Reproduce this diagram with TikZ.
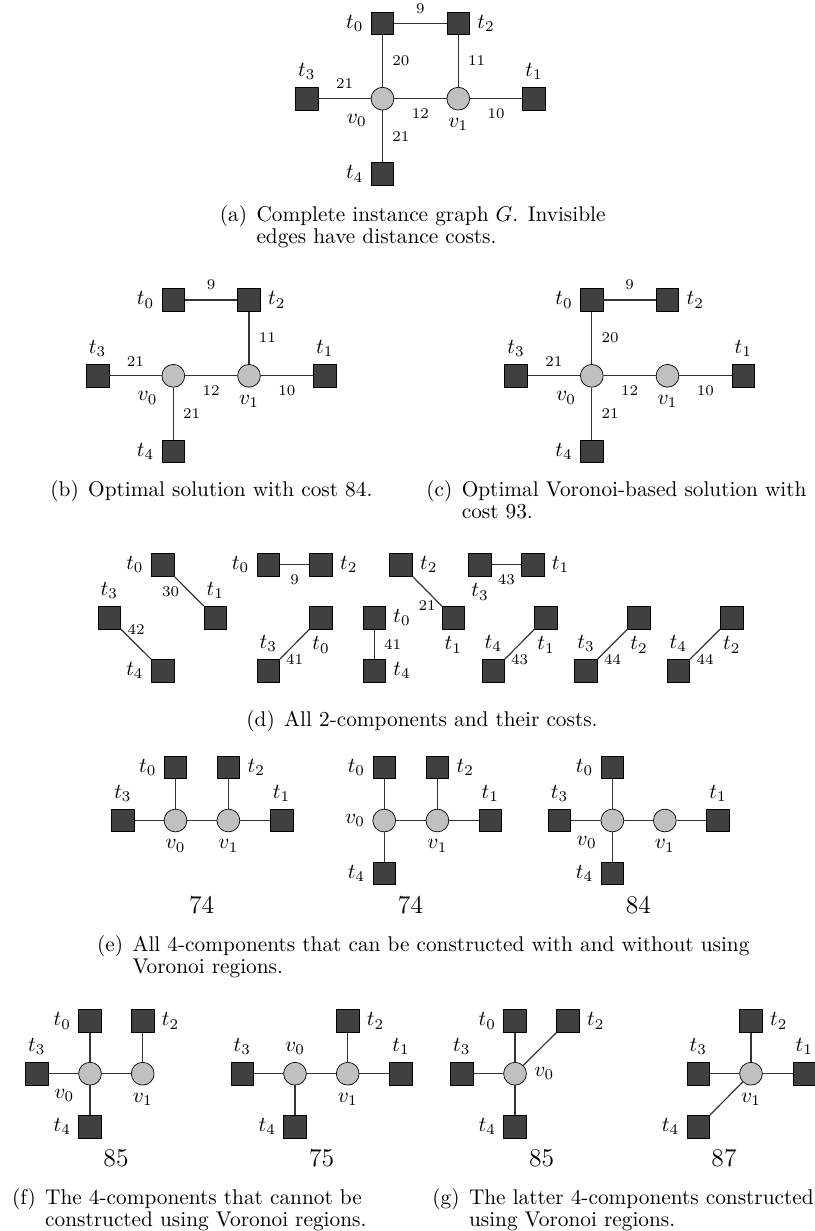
\documentclass[tikz,border=0pt]{standalone}
\definecolor{sqfill}{HTML}{404040}
\definecolor{cifill}{HTML}{C0C0C0}
\begin{document}
\begin{tikzpicture}[x=1pt,y=-1pt,
  sq/.style={rectangle,draw=black,line width=0.7pt,fill=sqfill,minimum size=22.6pt,inner sep=0pt},
  ci/.style={circle,draw=black,line width=0.7pt,fill=cifill,minimum size=22.8pt,inner sep=0pt},
  every label/.style={scale=2.13},
  ed/.style={draw=black!80,line width=1.2pt},
  el/.style={font=\scriptsize,scale=2.13,inner sep=4pt},
  bignum/.style={font=\large,scale=2.13,anchor=base},
  capt/.style={scale=2.13,anchor=base west,inner sep=0pt},
]
\useasboundingbox (0,0) rectangle (814,1231);

% ---------------- (a)
\node[sq,label=left:$t_0$] (a0) at (382.5,23.3) {};
\node[sq,label=right:$t_2$] (a2) at (458.3,23.3) {};
\node[sq,label=above:$t_3$] (a3) at (306.7,98.7) {};
\node[ci,label=below left:$v_0$] (av0) at (382.5,98.7) {};
\node[ci,label=below:$v_1$] (av1) at (458.3,98.7) {};
\node[sq,label=above:$t_1$] (a1) at (534,98.7) {};
\node[sq,label=left:$t_4$] (a4) at (382.5,174) {};
\draw[ed] (a0) -- node[el,above] {9} (a2);
\draw[ed] (a0) -- node[el,right] {20} (av0);
\draw[ed] (a2) -- node[el,right] {11} (av1);
\draw[ed] (a3) -- node[el,above] {21} (av0);
\draw[ed] (av0) -- node[el,below] {12} (av1);
\draw[ed] (av1) -- node[el,below] {10} (a1);
\draw[ed] (av0) -- node[el,right] {21} (a4);
\node[capt] (capa) at (219.5,221.7) {\begin{tabular}[t]{@{}l@{\hspace{4.4pt}}l@{}}(a)&Complete instance graph $G$. Invisible\\[-1.6pt]&edges have distance costs.\end{tabular}};

% ---------------- (b)
\node[sq,label=left:$t_0$] (b0) at (173.3,300) {};
\node[sq,label=right:$t_2$] (b2) at (249,300) {};
\node[sq,label=above:$t_3$] (b3) at (97.6,375.8) {};
\node[ci,label=below left:$v_0$] (bv0) at (173.3,375.8) {};
\node[ci,label=below:$v_1$] (bv1) at (249,375.8) {};
\node[sq,label=above:$t_1$] (b1) at (324.7,375.8) {};
\node[sq,label=left:$t_4$] (b4) at (173.3,451.4) {};
\draw[ed] (b0) -- node[el,above] {9} (b2);
\draw[ed] (b2) -- node[el,right] {11} (bv1);
\draw[ed] (b3) -- node[el,above] {21} (bv0);
\draw[ed] (bv0) -- node[el,below] {12} (bv1);
\draw[ed] (bv1) -- node[el,below] {10} (b1);
\draw[ed] (bv0) -- node[el,right] {21} (b4);
\node[capt] (capb) at (50,496.5) {\begin{tabular}[t]{@{}l@{\hspace{4.4pt}}l@{}}(b)&Optimal solution with cost 84.\end{tabular}};

% ---------------- (c)
\node[sq,label=left:$t_0$] (c0) at (591.8,300) {};
\node[sq,label=right:$t_2$] (c2) at (667.5,300) {};
\node[sq,label=above:$t_3$] (c3) at (516.1,375.8) {};
\node[ci,label=below left:$v_0$] (cv0) at (591.8,375.8) {};
\node[ci,label=below:$v_1$] (cv1) at (667.5,375.8) {};
\node[sq,label=above:$t_1$] (c1) at (743.2,375.8) {};
\node[sq,label=left:$t_4$] (c4) at (591.8,451.4) {};
\draw[ed] (c0) -- node[el,above] {9} (c2);
\draw[ed] (c0) -- node[el,right] {20} (cv0);
\draw[ed] (c3) -- node[el,above] {21} (cv0);
\draw[ed] (cv0) -- node[el,below] {12} (cv1);
\draw[ed] (cv1) -- node[el,below] {10} (c1);
\draw[ed] (cv0) -- node[el,right] {21} (c4);
\node[capt] (capc) at (426,496.5) {\begin{tabular}[t]{@{}l@{\hspace{4.4pt}}l@{}}(c)&Optimal Voronoi-based solution with\\[-1.6pt]&cost 93.\end{tabular}};

% ---------------- (d)
\node[sq,label=left:$t_0$] (d1a) at (162.7,564.7) {};
\node[sq,label=above:$t_1$] (d1b) at (215.3,617.7) {};
\draw[ed] (d1a) -- node[el,left] {30} (d1b);
\node[sq,label=above:$t_3$] (d2a) at (109.3,617.7) {};
\node[sq,label=left:$t_4$] (d2b) at (162.7,670.7) {};
\draw[ed] (d2a) -- node[el,above] {42} (d2b);
\node[sq,label=left:$t_0$] (d3a) at (268.3,564.7) {};
\node[sq,label=right:$t_2$] (d3b) at (321,564.7) {};
\draw[ed] (d3a) -- node[el,below] {9} (d3b);
\node[sq,label=above:$t_3$] (d4a) at (268.3,670.7) {};
\node[sq,label=below:$t_0$] (d4b) at (321,617.7) {};
\draw[ed] (d4a) -- node[el,below] {41} (d4b);
\node[sq,label=right:$t_0$] (d5a) at (374.3,617.7) {};
\node[sq,label=right:$t_4$] (d5b) at (374.3,670.7) {};
\draw[ed] (d5a) -- node[el,right] {41} (d5b);
\node[sq,label=right:$t_2$] (d6a) at (401,564.7) {};
\node[sq,label=below:$t_1$] (d6b) at (453.3,617.7) {};
\draw[ed] (d6a) -- node[el,below] {21} (d6b);
\node[sq,label=below:$t_3$] (d7a) at (480,564.7) {};
\node[sq,label=right:$t_1$] (d7b) at (532.7,564.7) {};
\draw[ed] (d7a) -- node[el,below] {43} (d7b);
\node[sq,label=above:$t_4$] (d8a) at (493.3,670.7) {};
\node[sq,label=below:$t_1$] (d8b) at (546,617.7) {};
\draw[ed] (d8a) -- node[el,below] {43} (d8b);
\node[sq,label=above:$t_3$] (d9a) at (586,670.7) {};
\node[sq,label=below:$t_2$] (d9b) at (639,617.7) {};
\draw[ed] (d9a) -- node[el,below] {44} (d9b);
\node[sq,label=above:$t_4$] (d10a) at (678.3,670.7) {};
\node[sq,label=below:$t_2$] (d10b) at (731.7,617.7) {};
\draw[ed] (d10a) -- node[el,below] {44} (d10b);
\node[capt] (capd) at (246,726.7) {\begin{tabular}[t]{@{}l@{\hspace{4.4pt}}l@{}}(d)&All 2-components and their costs.\end{tabular}};

% ---------------- (e)
\node[sq,label=left:$t_0$] (e10) at (175.5,767.3) {};
\node[sq,label=right:$t_2$] (e12) at (228.4,767.3) {};
\node[sq,label=above:$t_3$] (e13) at (122.9,820.5) {};
\node[ci,label=below:$v_0$] (e1v0) at (175.5,820.5) {};
\node[ci,label=below:$v_1$] (e1v1) at (228.4,820.5) {};
\node[sq,label=above:$t_1$] (e11) at (281.6,820.5) {};
\draw[ed] (e10) -- (e1v0);
\draw[ed] (e12) -- (e1v1);
\draw[ed] (e13) -- (e1v0);
\draw[ed] (e1v0) -- (e1v1);
\draw[ed] (e1v1) -- (e11);
\node[bignum] (e1n) at (201.7,913.3) {74};

\node[sq,label=left:$t_0$] (e20) at (384.2,767.3) {};
\node[sq,label=right:$t_2$] (e22) at (437.4,767.3) {};
\node[ci,label=left:$v_0$] (e2v0) at (384.2,820.5) {};
\node[ci,label=below:$v_1$] (e2v1) at (437.4,820.5) {};
\node[sq,label=above:$t_1$] (e21) at (490.3,820.5) {};
\node[sq,label=left:$t_4$] (e24) at (384.2,873.5) {};
\draw[ed] (e20) -- (e2v0);
\draw[ed] (e22) -- (e2v1);
\draw[ed] (e2v0) -- (e2v1);
\draw[ed] (e2v1) -- (e21);
\draw[ed] (e2v0) -- (e24);
\node[bignum] (e2n) at (410.5,913.3) {74};

\node[sq,label=left:$t_0$] (e30) at (612.4,767.3) {};
\node[sq,label=above:$t_3$] (e33) at (559.5,820.5) {};
\node[ci,label=below left:$v_0$] (e3v0) at (612.4,820.5) {};
\node[ci,label=below:$v_1$] (e3v1) at (664.8,820.5) {};
\node[sq,label=above:$t_1$] (e31) at (718,820.5) {};
\node[sq,label=left:$t_4$] (e34) at (612.4,873.5) {};
\draw[ed] (e30) -- (e3v0);
\draw[ed] (e33) -- (e3v0);
\draw[ed] (e3v0) -- (e3v1);
\draw[ed] (e3v1) -- (e31);
\draw[ed] (e3v0) -- (e34);
\node[bignum] (e3n) at (638.3,913.3) {84};
\node[capt] (cape) at (96.7,951) {\begin{tabular}[t]{@{}l@{\hspace{4.4pt}}l@{}}(e)&All 4-components that can be constructed with and without using\\[-1.6pt]&Voronoi regions.\end{tabular}};

% ---------------- (f)
\node[sq,label=left:$t_0$] (f10) at (90,1021) {};
\node[sq,label=right:$t_2$] (f12) at (142.7,1021) {};
\node[sq,label=above:$t_3$] (f13) at (36.7,1073.7) {};
\node[ci,label=below left:$v_0$] (f1v0) at (90,1073.7) {};
\node[ci,label=below:$v_1$] (f1v1) at (142.7,1073.7) {};
\node[sq,label=left:$t_4$] (f14) at (90,1126.7) {};
\draw[ed] (f10) -- (f1v0);
\draw[ed] (f12) -- (f1v1);
\draw[ed] (f13) -- (f1v0);
\draw[ed] (f1v0) -- (f1v1);
\draw[ed] (f1v0) -- (f14);
\node[bignum] (f1n) at (116,1166.7) {85};

\node[sq,label=above:$t_3$] (f23) at (242.3,1073.7) {};
\node[ci,label=above:$v_0$] (f2v0) at (295,1073.7) {};
\node[ci,label=below:$v_1$] (f2v1) at (347.7,1073.7) {};
\node[sq,label=right:$t_2$] (f22) at (347.7,1021) {};
\node[sq,label=above:$t_1$] (f21) at (401,1073.7) {};
\node[sq,label=left:$t_4$] (f24) at (295,1126.7) {};
\draw[ed] (f23) -- (f2v0);
\draw[ed] (f2v0) -- (f2v1);
\draw[ed] (f22) -- (f2v1);
\draw[ed] (f2v1) -- (f21);
\draw[ed] (f2v0) -- (f24);
\node[bignum] (f2n) at (321.7,1166.7) {75};
\node[capt] (capf) at (11.7,1204.3) {\begin{tabular}[t]{@{}l@{\hspace{4.4pt}}l@{}}(f)&The 4-components that cannot be\\[-1.6pt]&constructed using Voronoi regions.\end{tabular}};

% ---------------- (g)
\node[sq,label=left:$t_0$] (g10) at (515,1021) {};
\node[sq,label=right:$t_2$] (g12) at (568,1021) {};
\node[sq,label=above:$t_3$] (g13) at (461.7,1073.7) {};
\node[ci,label=right:$v_0$] (g1v0) at (515,1073.7) {};
\node[sq,label=left:$t_4$] (g14) at (515,1126.7) {};
\draw[ed] (g10) -- (g1v0);
\draw[ed] (g1v0) -- (g12);
\draw[ed] (g13) -- (g1v0);
\draw[ed] (g1v0) -- (g14);
\node[bignum] (g1n) at (541.7,1166.7) {85};

\node[sq,label=right:$t_2$] (g22) at (751,1021) {};
\node[sq,label=above:$t_3$] (g23) at (698.3,1073.7) {};
\node[ci,label=below:$v_1$] (g2v1) at (751,1073.7) {};
\node[sq,label=above:$t_1$] (g21) at (804.3,1073.7) {};
\node[sq,label=left:$t_4$] (g24) at (698.3,1126.7) {};
\draw[ed] (g22) -- (g2v1);
\draw[ed] (g23) -- (g2v1);
\draw[ed] (g2v1) -- (g21);
\draw[ed] (g2v1) -- (g24);
\node[bignum] (g2n) at (724,1166.7) {87};
\node[capt] (capg) at (432,1204.3) {\begin{tabular}[t]{@{}l@{\hspace{4.4pt}}l@{}}(g)&The latter 4-components constructed\\[-1.6pt]&using Voronoi regions.\end{tabular}};
\end{tikzpicture}
\end{document}
